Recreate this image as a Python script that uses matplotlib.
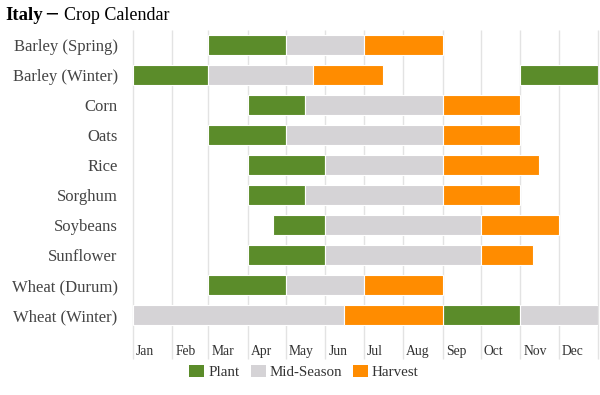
import matplotlib.pyplot as plt
from matplotlib.patches import Patch

# crops, top to bottom
crops = ["Barley (Spring)", "Barley (Winter)", "Corn", "Oats", "Rice", "Sorghum",
         "Soybeans", "Sunflower", "Wheat (Durum)", "Wheat (Winter)"]

# day-of-year spans (start, end) for each stage, one list per crop
plant = [[(59, 120)], [(0, 59), (304, 365)], [(90, 135)], [(59, 120)], [(90, 151)],
         [(90, 135)], [(110, 151)], [(90, 151)], [(59, 120)], [(243, 304)]]
mid = [[(120, 181)], [(59, 141)], [(135, 243)], [(120, 243)], [(151, 243)],
       [(135, 243)], [(151, 273)], [(151, 273)], [(120, 181)], [(0, 166), (304, 365)]]
harvest = [[(181, 243)], [(141, 196)], [(243, 304)], [(243, 304)], [(243, 319)],
           [(243, 304)], [(273, 334)], [(273, 314)], [(181, 243)], [(166, 243)]]

months = ["Jan", "Feb", "Mar", "Apr", "May", "Jun", "Jul", "Aug", "Sep", "Oct", "Nov", "Dec"]
month_starts = [0, 31, 59, 90, 120, 151, 181, 212, 243, 273, 304, 334]

stages = [("Plant", plant, "#5b8c2a"), ("Mid-Season", mid, "#d5d3d6"), ("Harvest", harvest, "#ff8c00")]

plt.rcParams['font.family'] = ['Liberation Serif', 'DejaVu Serif']

fig = plt.figure(figsize=(6, 3.95), dpi=100)
ax = fig.add_axes([133 / 600, 1 - 330 / 395, 465 / 600, 300 / 395])

# month gridlines running down into the label area
ax.vlines(month_starts + [365], -0.098, 1.0, transform=ax.get_xaxis_transform(),
          color="#e3e3e3", lw=1, clip_on=False, zorder=0)

for name, spans, color in stages:
    for i, segs in enumerate(spans):
        for s, e in segs:
            ax.barh(i, e - s, left=s, height=0.67, color=color, edgecolor="white",
                    linewidth=0.8, zorder=2)

ax.set_xlim(0, 365)
ax.set_ylim(len(crops) - 0.5, -0.5)
ax.set_yticks(range(len(crops)))
ax.set_yticklabels(crops, fontsize=12, color="#444444")
ax.tick_params(axis="y", length=0, pad=11)
ax.set_xticks([])
for sp in ax.spines.values():
    sp.set_visible(False)

for m, d in zip(months, month_starts):
    ax.text(d + 2.5, -0.073, m, transform=ax.get_xaxis_transform(), fontsize=9.8,
            color="#333333", ha="left", va="center")

handles = [Patch(facecolor=c, edgecolor="none", label=n) for n, _, c in stages]
fig.legend(handles=handles, loc="center", bbox_to_anchor=(304 / 600, 1 - 372 / 395),
           ncol=3, frameon=False, fontsize=10.8, handlelength=1.0, handleheight=0.8,
           handletextpad=0.25, columnspacing=0.75, labelcolor="#333333")

t1 = fig.text(5 / 600, 1 - 16 / 395, "Italy", fontsize=13.5, fontweight="bold",
              va="center", ha="left", color="black")
fig.canvas.draw()
bb = t1.get_window_extent()
t2 = fig.text(bb.x1 / 600 + 4 / 600, 1 - 15 / 395, "\u2500", fontsize=13,
              family="DejaVu Sans", va="center", ha="left", color="black")
fig.canvas.draw()
bb2 = t2.get_window_extent()
fig.text(bb2.x1 / 600 + 6 / 600, 1 - 16 / 395, "Crop Calendar", fontsize=13,
         va="center", ha="left", color="black")

fig.savefig("out.png", dpi=100)
